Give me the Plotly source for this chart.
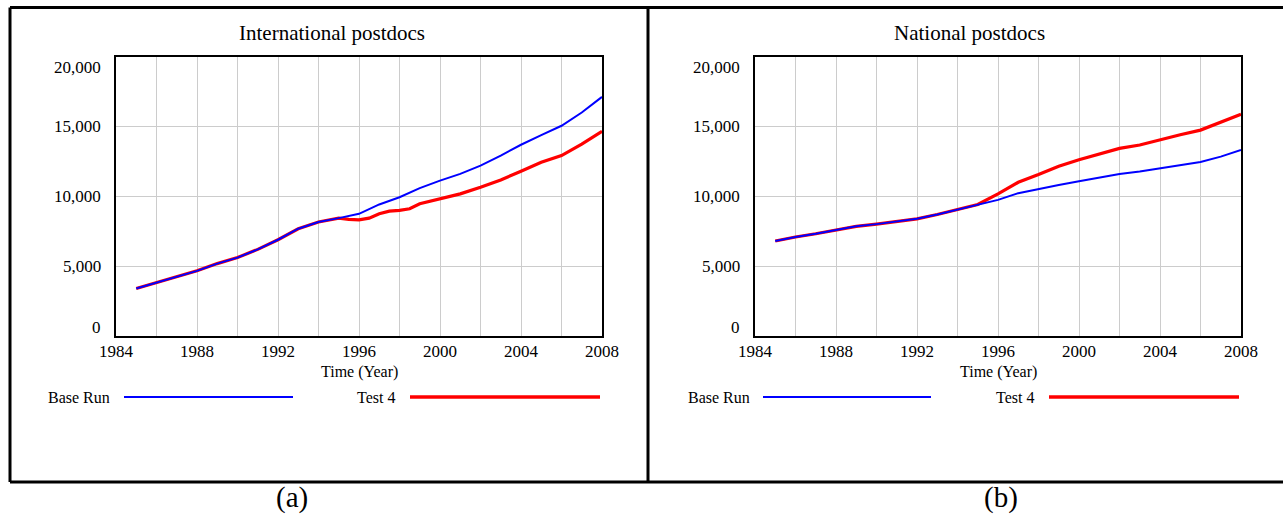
import plotly.graph_objects as go

# ---------------- data ----------------
years = list(range(1985, 2009))

intl_base = [3400, 3810, 4240, 4670, 5190, 5620, 6210, 6900, 7690, 8170, 8450, 8760,
             9430, 9950, 10600, 11140, 11620, 12210, 12930, 13710, 14400, 15070, 16020, 17140]
intl_test_years = [1985, 1986, 1987, 1988, 1989, 1990, 1991, 1992, 1993, 1994, 1995,
                   1995.5, 1996, 1996.5, 1997, 1997.5, 1998, 1998.5, 1999, 2000, 2001,
                   2002, 2003, 2004, 2005, 2006, 2007, 2008]
intl_test = [3400, 3810, 4240, 4670, 5190, 5620, 6210, 6900, 7690, 8170, 8450,
             8360, 8330, 8450, 8760, 8950, 9000, 9120, 9480, 9830, 10190,
             10670, 11190, 11810, 12450, 12930, 13760, 14670]

natl_base = [6810, 7100, 7330, 7570, 7860, 8020, 8210, 8400, 8710, 9050, 9430, 9760,
             10240, 10550, 10830, 11100, 11380, 11620, 11790, 12020, 12260, 12480, 12860, 13330]
natl_test = [6810, 7100, 7330, 7570, 7860, 8020, 8210, 8400, 8710, 9050, 9430, 10190,
             11020, 11570, 12170, 12640, 13050, 13450, 13690, 14070, 14430, 14760, 15360, 15900]

titles = ["International postdocs", "National postdocs"]
captions = ["(a)", "(b)"]
series_names = ["Base Run", "Test 4"]
y_ticks = [0, 5000, 10000, 15000, 20000]
y_tick_text = ["0", "5,000", "10,000", "15,000", "20,000"]
x_ticks = list(range(1984, 2009, 2))
x_tick_text = [str(v) if (v - 1984) % 4 == 0 else "" for v in x_ticks]
x_title = "Time (Year)"

# ---------------- layout helpers ----------------
W, H = 1283, 516
def px(x):
    return x / W
def py(y):
    return 1 - y / H

FONT = "Liberation Serif, Times New Roman, serif"
BLUE = "#0000ff"
RED = "#ff0000"

fig = go.Figure()

panels = [
    dict(xa="x", ya="y", left=116, right=602, base_x=years, base=intl_base,
         test_x=intl_test_years, test=intl_test),
    dict(xa="x2", ya="y2", left=755, right=1241, base_x=years, base=natl_base,
         test_x=years, test=natl_test),
]

plot_top, plot_bottom = 57, 336

for i, p in enumerate(panels):
    fig.add_trace(go.Scatter(x=p["test_x"], y=p["test"], mode="lines", name=series_names[1],
                             line=dict(color=RED, width=3.2), xaxis=p["xa"], yaxis=p["ya"],
                             showlegend=False))
    fig.add_trace(go.Scatter(x=p["base_x"], y=p["base"], mode="lines", name=series_names[0],
                             line=dict(color=BLUE, width=2), xaxis=p["xa"], yaxis=p["ya"],
                             showlegend=False))

axis_common = dict(showline=True, linecolor="black", linewidth=2, mirror=True,
                   showgrid=True, gridcolor="#cccccc", gridwidth=1, zeroline=False,
                   ticks="", automargin=False,
                   tickfont=dict(family=FONT, size=17, color="black"))

layout_axes = {}
for i, p in enumerate(panels):
    xkey = "xaxis" if i == 0 else "xaxis2"
    ykey = "yaxis" if i == 0 else "yaxis2"
    layout_axes[xkey] = dict(axis_common, domain=[px(p["left"]), px(p["right"])],
                             range=[1984, 2008], tickmode="array", tickvals=x_ticks,
                             ticktext=x_tick_text, anchor=p["ya"], ticklabelstandoff=-1)
    layout_axes[ykey] = dict(axis_common, domain=[py(plot_bottom), py(plot_top)],
                             range=[0, 20000], tickmode="array", tickvals=y_ticks,
                             showticklabels=False, anchor=p["xa"])

fig.update_layout(width=W, height=H,
                  margin=dict(l=0, r=0, t=0, b=0, pad=0, autoexpand=False),
                  paper_bgcolor="white", plot_bgcolor="white", showlegend=False,
                  **layout_axes)

annotations = []
shapes = []

# y tick labels (Vensim style: end labels pulled inward)
yshift = {0: 9, 20000: -11}
for i, p in enumerate(panels):
    xd = "x domain" if i == 0 else "x2 domain"
    for v, t in zip(y_ticks, y_tick_text):
        annotations.append(dict(x=0, xref=xd, xanchor="right", xshift=-13,
                                y=v, yref=p["ya"], yanchor="middle", yshift=yshift.get(v, 0),
                                text=t, showarrow=False,
                                font=dict(family=FONT, size=17, color="black")))

# titles, axis titles, captions
title_x = [332, 969]
caption_x = [292, 1001]
for i, p in enumerate(panels):
    annotations.append(dict(x=px(title_x[i]), y=py(33), xref="paper", yref="paper",
                            text=titles[i], showarrow=False, xanchor="center", yanchor="middle",
                            font=dict(family=FONT, size=21, color="black")))
    annotations.append(dict(x=px((p["left"] + p["right"]) / 2), y=py(372), xref="paper",
                            yref="paper", text=x_title, showarrow=False, xanchor="center",
                            yanchor="middle", font=dict(family=FONT, size=16, color="black")))
    annotations.append(dict(x=px(caption_x[i]), y=py(497), xref="paper", yref="paper",
                            text=captions[i], showarrow=False, xanchor="center", yanchor="middle",
                            font=dict(family=FONT, size=29, color="black")))

# legends drawn Vensim-style under each panel
legend_rows = [
    dict(t1_end=112, l1=(124, 293), t2_end=397, l2=(410, 600)),
    dict(t1_end=752, l1=(763, 931), t2_end=1036, l2=(1049, 1239)),
]
ly = 397
for lr in legend_rows:
    annotations.append(dict(x=px(lr["t1_end"]), y=py(ly), xref="paper", yref="paper",
                            text=series_names[0], showarrow=False, xanchor="right",
                            yanchor="middle", font=dict(family=FONT, size=16, color="black")))
    annotations.append(dict(x=px(lr["t2_end"]), y=py(ly), xref="paper", yref="paper",
                            text=series_names[1], showarrow=False, xanchor="right",
                            yanchor="middle", font=dict(family=FONT, size=16, color="black")))
    shapes.append(dict(type="line", xref="paper", yref="paper",
                       x0=px(lr["l1"][0]), x1=px(lr["l1"][1]), y0=py(ly), y1=py(ly),
                       line=dict(color=BLUE, width=2)))
    shapes.append(dict(type="line", xref="paper", yref="paper",
                       x0=px(lr["l2"][0]), x1=px(lr["l2"][1]), y0=py(ly), y1=py(ly),
                       line=dict(color=RED, width=3.5)))

# outer frames
frame = dict(color="black", width=3)
shapes += [
    dict(type="line", xref="paper", yref="paper", x0=px(10), x1=1, y0=py(7.5), y1=py(7.5), line=frame),
    dict(type="line", xref="paper", yref="paper", x0=px(10), x1=1, y0=py(482), y1=py(482), line=frame),
    dict(type="line", xref="paper", yref="paper", x0=px(10), x1=px(10), y0=py(7.5), y1=py(482), line=frame),
    dict(type="line", xref="paper", yref="paper", x0=px(648), x1=px(648), y0=py(7.5), y1=py(482), line=frame),
]

fig.update_layout(annotations=annotations, shapes=shapes)

fig.write_html("out.html", config={"displayModeBar": False},
               post_script="document.body.style.margin='0';document.body.style.overflow='hidden';")
